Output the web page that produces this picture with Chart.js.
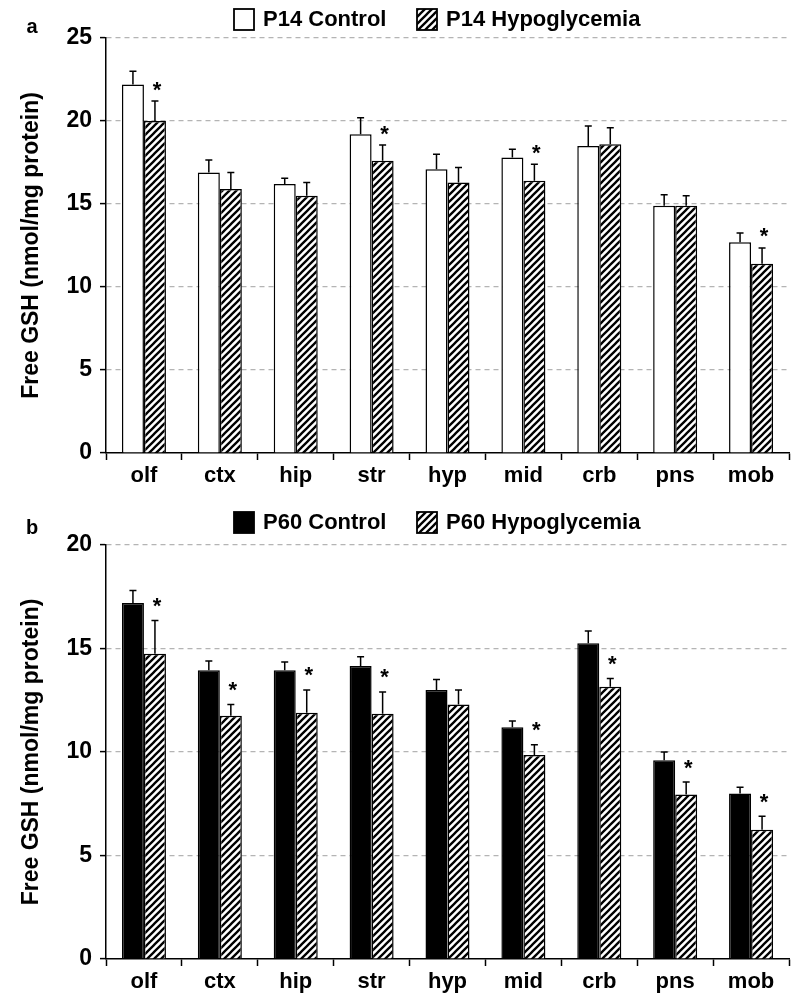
<!DOCTYPE html>
<html>
<head>
<meta charset="utf-8">
<script src="https://cdn.jsdelivr.net/npm/chart.js@4/dist/chart.umd.min.js"></script>
<style>
  html, body { margin: 0; padding: 0; background: #fff; }
  canvas { display: block; position: absolute; left: 0; }
  #c1 { top: 0; }
  #c2 { top: 497px; }
</style>
</head>
<body>
<canvas id="c1" width="800" height="497"></canvas>
<canvas id="c2" width="800" height="497"></canvas>
<script>
const categories = ['olf', 'ctx', 'hip', 'str', 'hyp', 'mid', 'crb', 'pns', 'mob'];
const yTicks14 = [0, 5, 10, 15, 20, 25];
const yTicks60 = [0, 5, 10, 15, 20];

const p14Control    = [22.2, 16.9, 16.2, 19.2, 17.1, 17.8, 18.5, 14.9, 12.7];
const p14ControlErr = [0.8, 0.75, 0.35, 1.0, 0.9, 0.5, 1.2, 0.65, 0.55];
const p14Hypo       = [20.0, 15.9, 15.5, 17.6, 16.3, 16.4, 18.6, 14.9, 11.4];
const p14HypoErr    = [1.2, 1.0, 0.8, 0.95, 0.9, 1.0, 1.0, 0.6, 0.95];
const p14Sig        = [true, false, false, true, false, true, false, false, true];

const p60Control    = [17.2, 13.95, 13.95, 14.15, 13.0, 11.2, 15.25, 9.6, 8.0];
const p60ControlErr = [0.6, 0.45, 0.4, 0.45, 0.5, 0.3, 0.6, 0.4, 0.3];
const p60Hypo       = [14.75, 11.75, 11.9, 11.85, 12.3, 9.85, 13.15, 7.95, 6.25];
const p60HypoErr    = [1.6, 0.55, 1.1, 1.05, 0.7, 0.5, 0.4, 0.6, 0.65];
const p60Sig        = [true, true, true, true, false, true, true, true, true];

const FONT = "'Liberation Sans', Arial, sans-serif";

function hatchPattern() {
  const s = 7;
  const c = document.createElement('canvas');
  c.width = s; c.height = s;
  const g = c.getContext('2d');
  g.fillStyle = '#fff';
  g.fillRect(0, 0, s, s);
  g.strokeStyle = '#000';
  g.lineWidth = 2.3;
  g.beginPath();
  g.moveTo(-2, s + 2); g.lineTo(s + 2, -2);
  g.moveTo(-2, 2); g.lineTo(2, -2);
  g.moveTo(s - 2, s + 2); g.lineTo(s + 2, s - 2);
  g.stroke();
  return g.createPattern(c, 'repeat');
}

const extras = {
  id: 'extras',
  afterDatasetsDraw(chart, args, opts) {
    const ctx = chart.ctx;
    const y = chart.scales.y;
    ctx.save();
    ctx.strokeStyle = '#000';
    ctx.lineWidth = 1.5;
    chart.data.datasets.forEach((ds, di) => {
      const meta = chart.getDatasetMeta(di);
      meta.data.forEach((el, j) => {
        const top = y.getPixelForValue(ds.data[j] + ds.err[j]);
        const base = y.getPixelForValue(ds.data[j]);
        ctx.beginPath();
        ctx.moveTo(el.x, base);
        ctx.lineTo(el.x, top);
        ctx.moveTo(el.x - 3.5, top);
        ctx.lineTo(el.x + 3.5, top);
        ctx.stroke();
        if (ds.sig && ds.sig[j]) {
          ctx.fillStyle = '#000';
          ctx.font = 'bold 22px ' + FONT;
          ctx.textAlign = 'center';
          ctx.textBaseline = 'alphabetic';
          ctx.fillText('*', el.x + 2, top - opts.starGap + 12.5);
        }
      });
    });
    ctx.restore();
  },
  afterDraw(chart, args, opts) {
    const ctx = chart.ctx;
    ctx.save();
    ctx.fillStyle = '#000';
    ctx.font = 'bold 20px ' + FONT;
    ctx.textAlign = 'center';
    ctx.textBaseline = 'middle';
    ctx.fillText(opts.letter, 32, opts.letterY);
    ctx.font = 'bold 22px ' + FONT;
    ctx.textAlign = 'left';
    chart.data.datasets.forEach((ds, di) => {
      const bx = opts.legendX[di];
      const by = opts.legendY;
      ctx.fillStyle = ds.backgroundColor;
      ctx.fillRect(bx, by - 10, 20, 21);
      ctx.strokeStyle = '#000';
      ctx.lineWidth = 1.8;
      ctx.strokeRect(bx, by - 10, 20, 21);
      ctx.fillStyle = '#000';
      ctx.fillText(ds.label, bx + 29, by + 1);
    });
    ctx.restore();
  }
};

function makeChart(id, cfg) {
  const hatch = hatchPattern();
  return new Chart(document.getElementById(id), {
    type: 'bar',
    data: {
      labels: categories,
      datasets: [
        { label: cfg.labels[0], data: cfg.ctrl, err: cfg.ctrlErr, backgroundColor: cfg.ctrlColor,
          borderColor: '#000', borderWidth: 1.5, borderSkipped: 'bottom' },
        { label: cfg.labels[1], data: cfg.hypo, err: cfg.hypoErr, sig: cfg.sig, backgroundColor: hatch,
          borderColor: '#000', borderWidth: 1.5, borderSkipped: 'bottom' }
      ]
    },
    options: {
      responsive: false,
      animation: false,
      events: [],
      layout: { padding: { top: cfg.padTop, right: 11, bottom: 0, left: 0 } },
      datasets: { bar: { categoryPercentage: 0.58, barPercentage: 1.0 } },
      plugins: {
        legend: { display: false },
        tooltip: { enabled: false },
        extras: { letter: cfg.letter, letterY: cfg.letterY, legendX: [234, 417], legendY: cfg.legendY, starGap: cfg.starGap }
      },
      scales: {
        x: {
          offset: true,
          grid: { display: true, offset: true, drawOnChartArea: false, drawTicks: true, tickLength: 7, tickColor: '#000', tickWidth: 1.5 },
          border: { display: true, color: '#000', width: 1.5 },
          ticks: { color: '#000', padding: 3, font: { family: FONT, size: 22, weight: 'bold' } },
          afterFit: s => { s.height = cfg.xHeight; }
        },
        y: {
          min: 0, max: cfg.max,
          afterBuildTicks: s => { s.ticks = cfg.yTicks.map(v => ({ value: v })); },
          grid: { color: ctx => ctx.tick && ctx.tick.value === 0 ? 'rgba(0,0,0,0)' : '#b4b4b4', lineWidth: 1.2,
                  tickColor: '#000', tickWidth: 1.5, tickLength: 6, tickBorderDash: [] },
          border: { display: true, color: '#000', width: 1.5, dash: [5, 4] },
          ticks: { color: '#000', padding: 8, font: { family: FONT, size: 23, weight: 'bold' } },
          title: { display: true, text: 'Free GSH (nmol/mg protein)', color: '#000',
                   font: { family: FONT, size: 23, weight: 'bold' }, padding: { top: 18, bottom: 0 } },
          afterFit: s => { s.width = 106; }
        }
      }
    },
    plugins: [extras]
  });
}

makeChart('c1', {
  labels: ['P14 Control', 'P14 Hypoglycemia'],
  ctrl: p14Control, ctrlErr: p14ControlErr, hypo: p14Hypo, hypoErr: p14HypoErr, sig: p14Sig,
  ctrlColor: '#ffffff', max: 25, yTicks: yTicks14, padTop: 38, xHeight: 44,
  letter: 'a', letterY: 27, legendY: 19, starGap: 17
});
makeChart('c2', {
  labels: ['P60 Control', 'P60 Hypoglycemia'],
  ctrl: p60Control, ctrlErr: p60ControlErr, hypo: p60Hypo, hypoErr: p60HypoErr, sig: p60Sig,
  ctrlColor: '#000000', max: 20, yTicks: yTicks60, padTop: 48, xHeight: 35,
  letter: 'b', letterY: 31, legendY: 25, starGap: 20
});
</script>
</body>
</html>
